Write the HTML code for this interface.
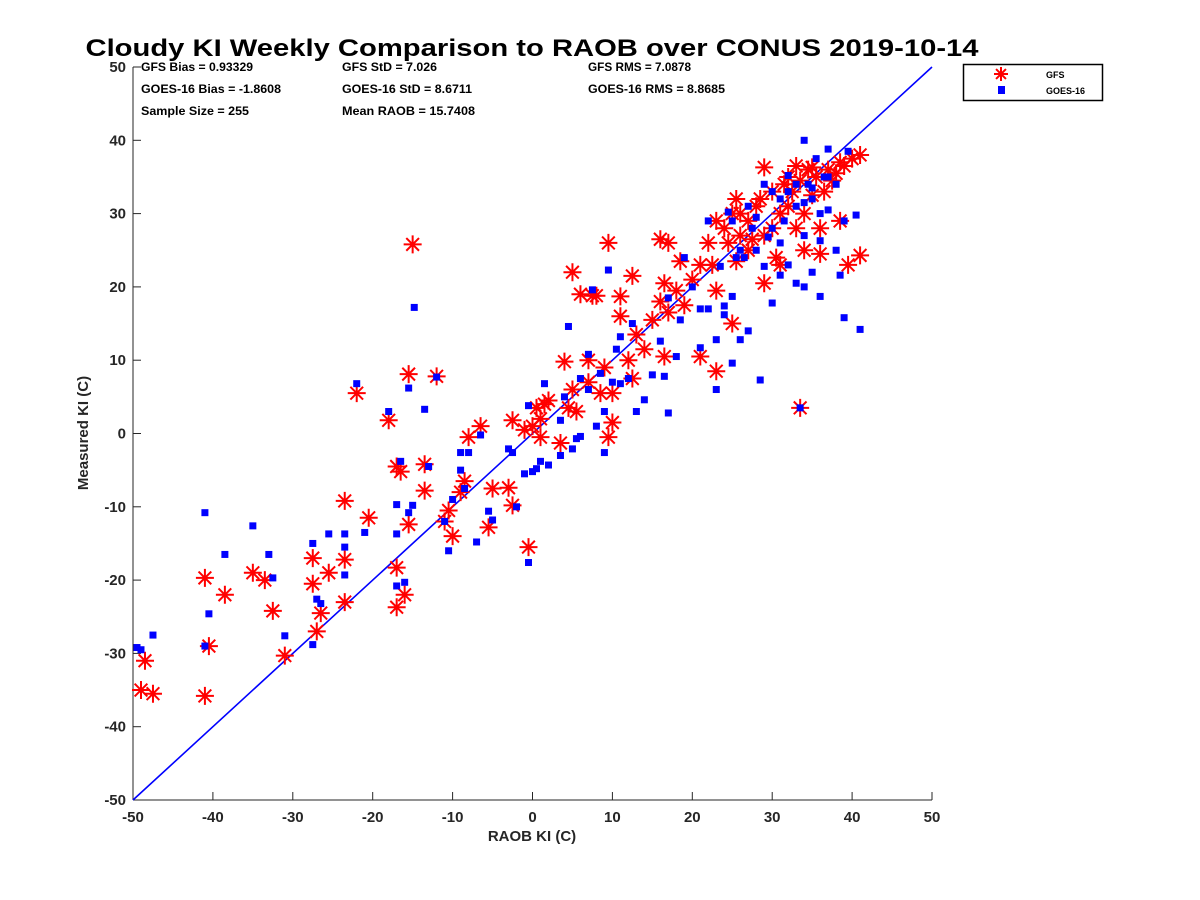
<!DOCTYPE html>
<html><head><meta charset="utf-8"><style>
body{margin:0;background:#fff;}
svg{display:block;font-family:"Liberation Sans",sans-serif;}
</style></head><body>
<svg id="chart" width="1200" height="900">
<text x="532" y="56" text-anchor="middle" font-size="24" font-weight="bold" textLength="893" lengthAdjust="spacingAndGlyphs">Cloudy KI Weekly Comparison to RAOB over CONUS 2019-10-14</text>
<g font-size="12" font-weight="bold">
<text x="141" y="71" textLength="112" lengthAdjust="spacingAndGlyphs">GFS Bias = 0.93329</text>
<text x="342" y="71" textLength="95" lengthAdjust="spacingAndGlyphs">GFS StD = 7.026</text>
<text x="588" y="71" textLength="103" lengthAdjust="spacingAndGlyphs">GFS RMS = 7.0878</text>
<text x="141" y="93" textLength="140" lengthAdjust="spacingAndGlyphs">GOES-16 Bias = -1.8608</text>
<text x="342" y="93" textLength="130" lengthAdjust="spacingAndGlyphs">GOES-16 StD = 8.6711</text>
<text x="588" y="93" textLength="137" lengthAdjust="spacingAndGlyphs">GOES-16 RMS = 8.8685</text>
<text x="141" y="115" textLength="108" lengthAdjust="spacingAndGlyphs">Sample Size = 255</text>
<text x="342" y="115" textLength="133" lengthAdjust="spacingAndGlyphs">Mean RAOB = 15.7408</text>
</g>
<g id="axes"></g>
<g id="marks"></g>
<g>
<rect x="963.5" y="64.5" width="139" height="36" fill="#fff" stroke="#000" stroke-width="1.5"/>
<g id="legstar"></g>
<rect x="998" y="86" width="7" height="8" fill="#00f"/>
<text x="1046" y="78" font-size="9" font-weight="bold">GFS</text>
<text x="1046" y="94" font-size="9" font-weight="bold">GOES-16</text>
</g>
</svg>
<script>
const xTicks=[-50,-40,-30,-20,-10,0,10,20,30,40,50];
const yTicks=[-50,-40,-30,-20,-10,0,10,20,30,40,50];
const gfsX=[-49,-48.5,-47.5,-41,-41,-40.5,-38.5,-35,-33.5,-32.5,-31,-27.5,-27.5,-27,-26.5,-25.5,-23.5,-23.5,-23.5,-22,-20.5,-18,-17,-17,-17,-16.5,-16,-15.5,-15.5,-15,-13.5,-13.5,-12,-11,-10.5,-10,-9,-8.5,-8,-6.5,-5.5,-5,-3,-2.5,-2.5,-1,-0.5,0,0.5,1,1,1.5,2,3.5,4,4.5,5,5,5.5,6,7,7,7.5,8,8.5,9,9.5,9.5,10,10,11,11,12,12.5,12.5,13,14,15,16,16,16.5,16.5,17,17,18,18.5,19,21,21,22.5,23,23,23,24,24.5,25,25,25.5,26,26,27,27,28,28.5,29,29,30,30,30.5,31,31.5,32,32.5,33,33.5,33.5,34,34,34.5,35,35.5,36,36,36.5,37,37.5,38,38.5,38.5,39,39.5,40,41,41,31,27.5,25.5,20,22,29,32,33,35];
const gfsY=[-35,-31,-35.5,-19.7,-35.8,-29,-22,-19,-20,-24.2,-30.3,-20.5,-17,-27,-24.5,-19,-23,-17.2,-9.2,5.5,-11.5,1.8,-4.5,-18.3,-23.7,-5.2,-22,8.1,-12.4,25.8,-4.2,-7.8,7.8,-12,-10.5,-14,-8,-6.5,-0.5,1,-12.8,-7.5,-7.4,-9.8,1.8,0.5,-15.5,1,3.5,2,-0.5,4,4.5,-1.3,9.8,3.5,22,6,3,19,7,10,18.8,18.8,5.5,9,-0.5,26,1.5,5.5,18.7,16,10,7.5,21.5,13.5,11.5,15.5,18,26.5,10.5,20.5,26,16.5,19.5,23.5,17.5,23,10.5,23,8.5,19.5,29,28,26,30,15,32,27,30,29,25,31,32,36.3,20.5,28,33,24,30,34,31,33,36.5,34.5,3.5,25,30,36,32.5,35,28,24.5,33,36,34.5,35.5,29,37,36.5,23,37.5,38,24.3,23,26.5,23.5,21,26,27,35,28,36.3];
const goesX=[-49.5,-49,-47.5,-41,-41,-40.5,-38.5,-35,-33,-32.5,-31,-27.5,-27.5,-27,-26.5,-25.5,-23.5,-23.5,-23.5,-22,-21,-18,-17,-17,-17,-16.5,-16,-15.5,-15.5,-15,-14.8,-13.5,-13,-12,-11,-10.5,-10,-9,-9,-8.5,-8,-7,-6.5,-5.5,-5,-3,-2.5,-2,-1,-0.5,-0.5,0,0.5,1,1.5,2,3.5,3.5,4,4.5,5,5.5,6,6,7,7,7.5,8,8.5,9,9,9.5,10,10.5,11,11,12,12.5,13,14,15,16,16.5,17,17,18,18.5,19,20,21,21,22,23,23,23.5,24,24,24.5,25,25,25.5,26,26.5,27,27.5,28,28.5,29,29.5,30,30,31,31.5,32,32,33,33,33.5,34,34,34,34.5,35,35,35.5,36,36,36.5,37,37,38,38,38.5,39,39,39.5,40.5,41,29,30,31,27,28,32,33,35,36,34,37,26,25,22,31];
const goesY=[-29.2,-29.5,-27.5,-29,-10.8,-24.6,-16.5,-12.6,-16.5,-19.7,-27.6,-28.8,-15,-22.6,-23.2,-13.7,-19.3,-15.5,-13.7,6.8,-13.5,3,-20.8,-13.7,-9.7,-3.8,-20.3,6.2,-10.8,-9.8,17.2,3.3,-4.5,7.7,-12,-16,-9,-2.6,-5,-7.5,-2.6,-14.8,-0.2,-10.6,-11.8,-2.1,-2.6,-10,-5.5,-17.6,3.8,-5.2,-4.8,-3.8,6.8,-4.3,-3,1.8,5,14.6,-2.1,-0.7,7.5,-0.4,10.8,6,19.6,1,8.2,3,-2.6,22.3,7,11.5,13.2,6.8,7.5,15,3,4.6,8,12.6,7.8,18.5,2.8,10.5,15.5,24,20,17,11.7,17,12.8,6,22.8,17.4,16.2,30.2,9.6,18.7,24,12.8,24,14,28,25,7.3,22.8,26.8,17.8,33,21.6,29,35.2,23,20.5,31,3.5,40,20,27,34,32,22,37.5,18.7,26.3,35,38.8,30.5,34,25,21.6,29,15.8,38.5,29.8,14.2,34,28,26,31,29.5,33,34,33.5,30,31.5,35,25,29,29,32];

const NS="http://www.w3.org/2000/svg";
const X0=133,X1=932,Y0=800,Y1=67;
const sx=v=>X0+(v+50)/100*(X1-X0);
const sy=v=>Y0-(v+50)/100*(Y0-Y1);
function mk(tag,attrs,parent){const e=document.createElementNS(NS,tag);for(const k in attrs)e.setAttribute(k,attrs[k]);parent.appendChild(e);return e;}
const axes=document.getElementById('axes');
const marks=document.getElementById('marks');
let ax=mk('line',{x1:X0,y1:Y0,x2:X1,y2:Y0,stroke:'#262626','stroke-width':1},axes);


let ay=mk('line',{x1:X0,y1:Y0,x2:X0,y2:Y1,stroke:'#262626','stroke-width':1},axes);


xTicks.forEach(t=>{
  mk('line',{x1:sx(t),y1:Y0,x2:sx(t),y2:Y0-8,stroke:'#262626'},axes);
  const tx=mk('text',{x:sx(t),y:Y0+22,'text-anchor':'middle','font-size':15,'font-weight':'bold',fill:'#262626'},axes);
  tx.textContent=t;
  
  
});
yTicks.forEach(t=>{
  mk('line',{x1:X0,y1:sy(t),x2:X0+8,y2:sy(t),stroke:'#262626'},axes);
  const tx=mk('text',{x:X0-7,y:sy(t)+5,'text-anchor':'end','font-size':15,'font-weight':'bold',fill:'#262626'},axes);
  tx.textContent=t;
  
  
});
const xl=mk('text',{x:532,y:841,'text-anchor':'middle','font-size':15,'font-weight':'bold',fill:'#262626'},axes);
xl.textContent='RAOB KI (C)';


const yl=mk('text',{x:88,y:433,'text-anchor':'middle','font-size':15,'font-weight':'bold',fill:'#262626',transform:'rotate(-90 88 433)'},axes);
yl.textContent='Measured KI (C)';


const ol=mk('line',{x1:sx(-50),y1:sy(-50),x2:sx(50),y2:sy(50),stroke:'#0000ff','stroke-width':1.6},marks);


function star(cx,cy,r,parent){
  let d='';
  for(let i=0;i<4;i++){const a=i*Math.PI/4;const dx=r*Math.cos(a),dy=r*Math.sin(a);d+=`M${cx-dx},${cy-dy}L${cx+dx},${cy+dy}`;}
  return mk('path',{d:d,stroke:'#ff0000','stroke-width':2,fill:'none'},parent);
}
gfsX.forEach((v,i)=>{
  const s=star(sx(v),sy(gfsY[i]),9,marks);
  
  
});
goesX.forEach((v,i)=>{
  const r=mk('rect',{x:sx(v)-3.5,y:sy(goesY[i])-3.5,width:7,height:7,fill:'#0000ff'},marks);
  
  
});
const ls=star(1001,74,7,document.getElementById('legstar'));


</script>
</body></html>
